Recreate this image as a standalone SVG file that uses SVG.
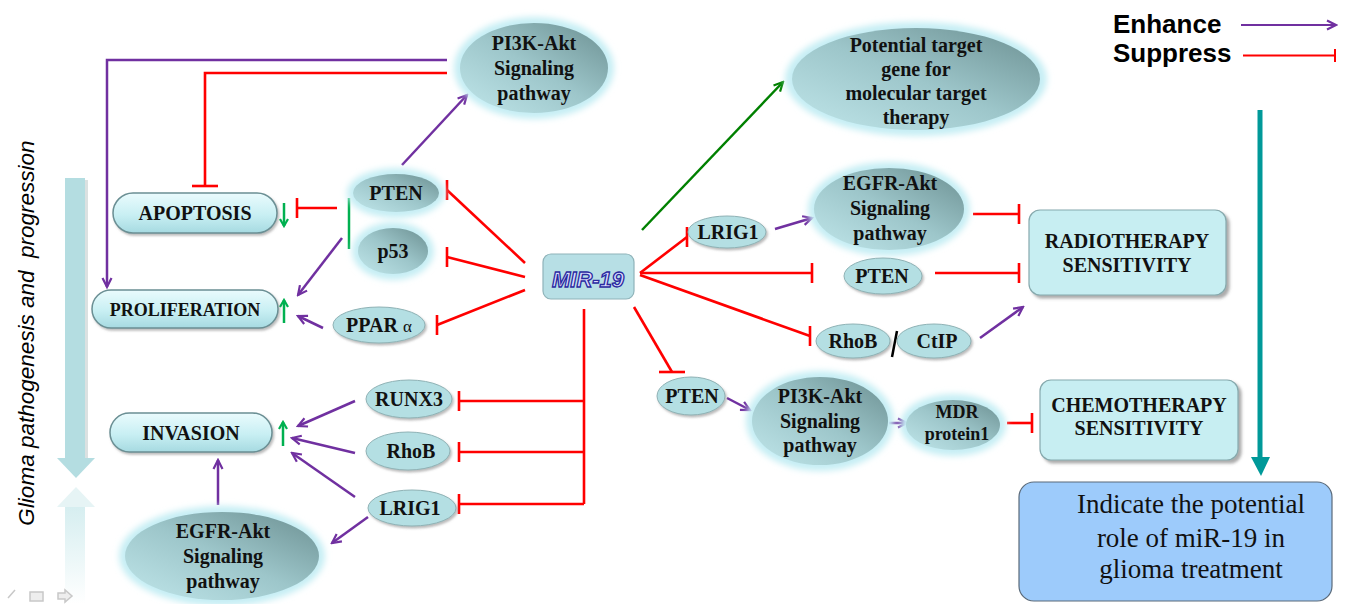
<svg xmlns="http://www.w3.org/2000/svg" width="1346" height="604" viewBox="0 0 1346 604">
<defs>
<style>
.n{font-family:"Liberation Serif","Times New Roman",serif;font-weight:bold;font-size:20px;text-anchor:middle;fill:#111}
.s18{font-size:18px}
.lt{fill:#b4dfe3;stroke:#8fb2b5;stroke-width:1;filter:url(#sh)}
.dk{fill:url(#gdk)}
.glow{fill:#c6eef4;filter:url(#blur)}
.pill{fill:url(#gpill);stroke:#6b8f94;stroke-width:1.5;filter:url(#sh)}
.box{fill:#c7eef2;stroke:#86a9ad;stroke-width:1.2;filter:url(#sh2)}
.red{stroke:#ff0000;stroke-width:2.6;fill:none}
.pur{stroke:#7030a0;stroke-width:2.5;fill:none;marker-end:url(#aP)}
.grn{stroke:#00b050;stroke-width:2.5;fill:none}
.bV{marker-end:url(#bV)}
.bH{marker-end:url(#bH)}
</style>
<linearGradient id="gdk" x1="0" y1="1" x2="1" y2="0">
<stop offset="0" stop-color="#c0e6ea"/>
<stop offset="0.5" stop-color="#9dc6ca"/>
<stop offset="1" stop-color="#6b8f91"/>
</linearGradient>
<linearGradient id="gpill" x1="0" y1="0" x2="0" y2="1">
<stop offset="0" stop-color="#eafbfd"/>
<stop offset="0.55" stop-color="#c8eff3"/>
<stop offset="1" stop-color="#a6dae1"/>
</linearGradient>
<linearGradient id="gref" x1="0" y1="0" x2="0" y2="1">
<stop offset="0" stop-color="#d6eef0"/>
<stop offset="1" stop-color="#ffffff"/>
</linearGradient>
<filter id="blur" x="-20%" y="-20%" width="140%" height="140%"><feGaussianBlur stdDeviation="3"/></filter>
<filter id="sh" x="-10%" y="-10%" width="130%" height="140%"><feDropShadow dx="1.5" dy="2" stdDeviation="1.2" flood-color="#777" flood-opacity="0.5"/></filter>
<filter id="sh2" x="-10%" y="-10%" width="130%" height="130%"><feDropShadow dx="3" dy="3" stdDeviation="1.5" flood-color="#666" flood-opacity="0.55"/></filter>
<marker id="aP" viewBox="0 0 12 12" refX="10" refY="6" markerWidth="12" markerHeight="12" markerUnits="userSpaceOnUse" orient="auto">
<path d="M1,1.5 L10,6 L1,10.5" fill="none" stroke="#7030a0" stroke-width="2.2"/>
</marker>
<marker id="aG" viewBox="0 0 12 12" refX="10" refY="6" markerWidth="12" markerHeight="12" markerUnits="userSpaceOnUse" orient="auto">
<path d="M1,1.5 L10,6 L1,10.5" fill="none" stroke="#008000" stroke-width="2.2"/>
</marker>
<marker id="aGs" viewBox="0 0 10 10" refX="8" refY="5" markerWidth="10" markerHeight="10" markerUnits="userSpaceOnUse" orient="auto">
<path d="M1,1 L8,5 L1,9" fill="none" stroke="#00b050" stroke-width="2.2"/>
</marker>
<marker id="bV" viewBox="-2 -11 4 22" refX="0" refY="0" markerWidth="4" markerHeight="22" markerUnits="userSpaceOnUse" orient="0">
<path d="M0,-10 V10" stroke="#ff0000" stroke-width="2.6"/>
</marker>
<marker id="bH" viewBox="-14 -2 28 4" refX="0" refY="0" markerWidth="28" markerHeight="4" markerUnits="userSpaceOnUse" orient="0">
<path d="M-13,0 H13" stroke="#ff0000" stroke-width="2.6"/>
</marker>
</defs>
<rect width="1346" height="604" fill="#ffffff"/>

<!-- left progression arrow -->
<g id="progression">
<rect x="67" y="180" width="21" height="280" fill="#9aa" opacity="0.35"/>
<rect x="65" y="178" width="20" height="280" fill="#b4dde1"/>
<polygon points="57,458 95,458 76,478" fill="#b4dde1"/>
<polygon points="57,507 95,507 76,487" fill="#e6f4f5"/>
<rect x="65" y="507" width="20" height="97" fill="url(#gref)"/>
<text xml:space="preserve" transform="translate(34,333) rotate(-90)" text-anchor="middle" font-family="'Liberation Sans',Arial,sans-serif" font-style="italic" font-size="22.5">Glioma pathogenesis and  progression</text>
</g>

<!-- slide controls -->
<g id="controls" stroke="#c8c8c8" fill="none" stroke-width="1.5">
<path d="M8,598 L15,590"/>
<rect x="30" y="592" width="13" height="9" fill="#eee"/>
<path d="M58,593 H65 V590 L72,596 L65,602 V599 H58 Z" fill="#eee"/>
</g>

<!-- legend -->
<g id="legend">
<text x="1113" y="33" font-family="'Liberation Sans',Arial,sans-serif" font-weight="bold" font-size="26" fill="#000">Enhance</text>
<text x="1113" y="62" font-family="'Liberation Sans',Arial,sans-serif" font-weight="bold" font-size="26" fill="#000">Suppress</text>
<path d="M1241,25 H1336" stroke="#7030a0" stroke-width="2" marker-end="url(#aP)"/>
<path d="M1243,55.5 H1335 M1335,49 V62" stroke="#ff0000" stroke-width="2" fill="none"/>
</g>

<!-- connectors -->
<g id="connectors">
<path class="pur" d="M447,60 H107 V287"/>
<path class="red bH" d="M447,73 H205 V186"/>
<path class="pur" d="M402,165 L467,95"/>
<path class="red bV" d="M337,208 H297"/>
<path class="grn" d="M349,198 V249"/>
<path class="pur" d="M342,238 L298,295"/>
<path class="pur" d="M323,328 L298,316"/>
<path class="grn" d="M284,203 V226" marker-end="url(#aGs)"/>
<path class="grn" d="M284,323 V300" marker-end="url(#aGs)"/>
<path class="grn" d="M283,446 V422" marker-end="url(#aGs)"/>
<path class="red bV" d="M525,263 L447,190"/>
<path class="red bV" d="M525,277 L447,257"/>
<path class="red bV" d="M525,290 L437,325"/>
<path class="red" d="M584,309 V504"/>
<path class="red bV" d="M584,401 H459"/>
<path class="red bV" d="M584,452 H459"/>
<path class="red bV" d="M584,504 H459"/>
<path class="pur" d="M355,401 L298,426"/>
<path class="pur" d="M355,453 L292,438"/>
<path class="pur" d="M355,497 L292,453"/>
<path class="pur" d="M368,517 L332,543"/>
<path class="pur" d="M218,505 V460"/>
<path d="M642,230 L783,82" stroke="#008000" stroke-width="2.5" fill="none" marker-end="url(#aG)"/>
<path class="red bV" d="M640,273 L687,237"/>
<path class="red bV" d="M640,273 H812"/>
<path class="red bV" d="M640,275 L810,336"/>
<path class="red bH" d="M634,307 L672,372"/>
<path class="pur" d="M775,229 L812,218"/>
<path class="red bV" d="M973,214 H1019"/>
<path class="red bV" d="M935,273 H1019"/>
<path class="pur" d="M980,338 L1023,307"/>
<path d="M897,331 L892,357" stroke="#000" stroke-width="2.5"/>
<path class="pur" d="M727,398 L750,410"/>
<path class="pur" d="M889,423 L907,423"/>
<path class="red bV" d="M1007,423 H1032"/>
<path d="M1260,110 V460" stroke="#009999" stroke-width="5"/>
<polygon points="1251,457 1270,457 1261,476" fill="#009999"/>
</g>

<!-- nodes -->
<g id="pi3k-top">
<ellipse class="glow" cx="534" cy="68" rx="80" ry="51"/>
<ellipse class="dk" cx="534" cy="68" rx="74" ry="45"/>
<text class="n" x="534" y="50">PI3K-Akt</text>
<text class="n" x="534" y="75">Signaling</text>
<text class="n" x="534" y="100">pathway</text>
</g>
<g id="pten-left">
<ellipse class="glow" cx="396" cy="193" rx="49" ry="25"/>
<ellipse class="dk" cx="396" cy="193" rx="43" ry="19"/>
<text class="n" x="396" y="200">PTEN</text>
</g>
<g id="p53">
<ellipse class="glow" cx="393" cy="251" rx="41" ry="29"/>
<ellipse class="dk" cx="393" cy="251" rx="35" ry="23"/>
<text class="n" x="393" y="258" font-size="23">p53</text>
</g>
<g id="ppar">
<ellipse class="lt" cx="379" cy="325" rx="46" ry="18"/>
<text class="n" x="379" y="332">PPAR <tspan font-weight="normal" font-size="17">α</tspan></text>
</g>
<g id="apoptosis">
<rect class="pill" x="113" y="193" width="164" height="40" rx="20"/>
<text class="n" x="195" y="220">APOPTOSIS</text>
</g>
<g id="proliferation">
<rect class="pill" x="92" y="290" width="186" height="38" rx="19"/>
<text class="n s18" x="185" y="316">PROLIFERATION</text>
</g>
<g id="invasion">
<rect class="pill" x="110" y="413" width="162" height="39" rx="19.5"/>
<text class="n" x="191" y="440">INVASION</text>
</g>
<g id="runx3">
<ellipse class="lt" cx="409" cy="399" rx="43" ry="19"/>
<text class="n" x="409" y="406">RUNX3</text>
</g>
<g id="rhob-left">
<ellipse class="lt" cx="408" cy="451" rx="42" ry="19"/>
<text class="n" x="411" y="458">RhoB</text>
</g>
<g id="lrig1-left">
<ellipse class="lt" cx="412" cy="508" rx="44" ry="18"/>
<text class="n" x="410" y="515">LRIG1</text>
</g>
<g id="egfr-left">
<ellipse class="glow" cx="222" cy="556" rx="103" ry="50"/>
<ellipse class="dk" cx="222" cy="556" rx="97" ry="44"/>
<text class="n" x="223" y="538">EGFR-Akt</text>
<text class="n" x="223" y="563">Signaling</text>
<text class="n" x="223" y="588">pathway</text>
</g>
<g id="mir19">
<rect x="543" y="254" width="91" height="45" rx="8" fill="#b7dfe5" stroke="#8fb3b9" stroke-width="1.2"/>
<text x="588" y="287" text-anchor="middle" font-family="'Liberation Sans',Arial,sans-serif" font-style="italic" font-weight="bold" font-size="22" fill="#dcdcff" stroke="#2a2aa0" stroke-width="1.3">MIR-19</text>
</g>
<g id="potential-target">
<ellipse class="glow" cx="916" cy="79" rx="131" ry="57"/>
<ellipse class="dk" cx="916" cy="79" rx="124" ry="51"/>
<text class="n" x="916" y="52">Potential target</text>
<text class="n" x="916" y="76">gene for</text>
<text class="n" x="916" y="100">molecular target</text>
<text class="n" x="916" y="124">therapy</text>
</g>
<g id="lrig1-right">
<ellipse class="lt" cx="727" cy="232" rx="39" ry="16"/>
<text class="n" x="728" y="239">LRIG1</text>
</g>
<g id="egfr-right">
<ellipse class="glow" cx="889" cy="209" rx="81" ry="47"/>
<ellipse class="dk" cx="889" cy="209" rx="75" ry="41"/>
<text class="n" x="890" y="190">EGFR-Akt</text>
<text class="n" x="890" y="215">Signaling</text>
<text class="n" x="890" y="240">pathway</text>
</g>
<g id="pten-right">
<ellipse class="lt" cx="883" cy="276" rx="39" ry="18"/>
<text class="n" x="882" y="283">PTEN</text>
</g>
<g id="rhob-right">
<ellipse class="lt" cx="853" cy="341" rx="37" ry="17"/>
<text class="n" x="853" y="348">RhoB</text>
</g>
<g id="ctip">
<ellipse class="lt" cx="934" cy="341" rx="37" ry="17"/>
<text class="n" x="937" y="348">CtIP</text>
</g>
<g id="radiotherapy">
<rect class="box" x="1029" y="210" width="197" height="85" rx="11"/>
<text class="n" x="1127" y="248">RADIOTHERAPY</text>
<text class="n" x="1127" y="272">SENSITIVITY</text>
</g>
<g id="pten-bottom">
<ellipse class="lt" cx="691" cy="396" rx="34" ry="19"/>
<text class="n" x="692" y="403">PTEN</text>
</g>
<g id="pi3k-bottom">
<ellipse class="glow" cx="820" cy="421" rx="74" ry="50"/>
<ellipse class="dk" cx="820" cy="421" rx="68" ry="44"/>
<text class="n" x="820" y="403">PI3K-Akt</text>
<text class="n" x="820" y="428">Signaling</text>
<text class="n" x="820" y="452">pathway</text>
</g>
<g id="mdr">
<ellipse class="glow" cx="953" cy="425" rx="53" ry="31"/>
<ellipse class="dk" cx="953" cy="425" rx="47" ry="25"/>
<text class="n s18" x="957" y="418">MDR</text>
<text class="n s18" x="957" y="440">protein1</text>
</g>
<g id="chemotherapy">
<rect class="box" x="1040" y="380" width="198" height="80" rx="11"/>
<text class="n" x="1139" y="412">CHEMOTHERAPY</text>
<text class="n" x="1139" y="435">SENSITIVITY</text>
</g>
<g id="indicate">
<rect x="1019" y="482" width="313" height="119" rx="15" fill="#9dcbfb" stroke="#5a6a7a" stroke-width="1.2"/>
<text x="1191" y="513" text-anchor="middle" font-family="'Liberation Serif','Times New Roman',serif" font-size="27" fill="#111">Indicate the potential</text>
<text x="1191" y="547" text-anchor="middle" font-family="'Liberation Serif','Times New Roman',serif" font-size="27" fill="#111">role of miR-19 in</text>
<text x="1191" y="578" text-anchor="middle" font-family="'Liberation Serif','Times New Roman',serif" font-size="27" fill="#111">glioma treatment</text>
</g>
</svg>
